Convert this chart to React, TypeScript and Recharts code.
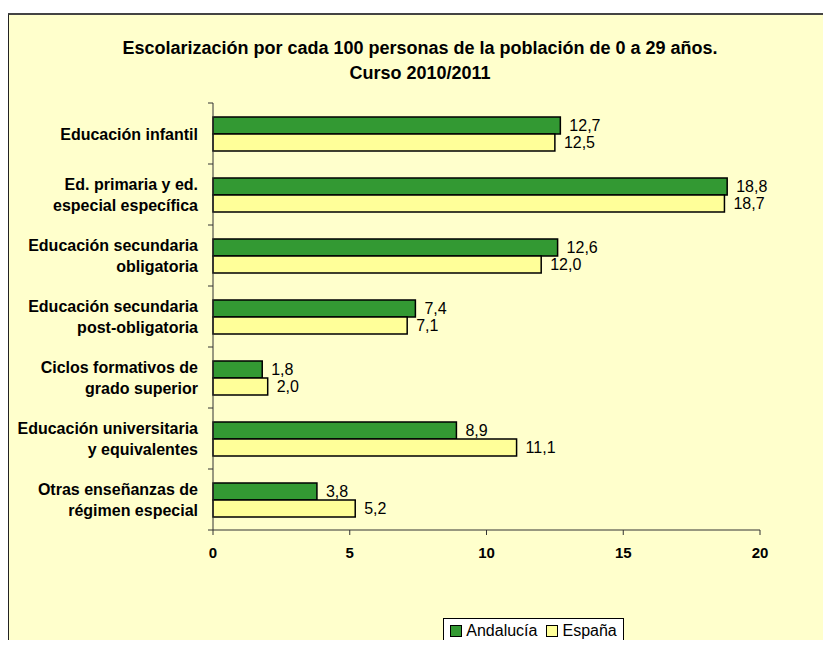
import { BarChart, Bar, XAxis, YAxis, LabelList } from 'recharts';

const categories = [
  'Educación infantil',
  'Ed. primaria y ed.|especial específica',
  'Educación secundaria|obligatoria',
  'Educación secundaria|post-obligatoria',
  'Ciclos formativos de|grado superior',
  'Educación universitaria|y equivalentes',
  'Otras enseñanzas de|régimen especial',
];
const andalucia = [12.7, 18.8, 12.6, 7.4, 1.8, 8.9, 3.8];
const espana = [12.5, 18.7, 12.0, 7.1, 2.0, 11.1, 5.2];
const seriesNames = ['Andalucía', 'España'];
const xTicks = [0, 5, 10, 15, 20];
const titleLines = ['Escolarización por cada 100 personas de la población de 0 a 29 años.', 'Curso 2010/2011'];

const colors = ['#339933', '#FFFF99'];
const font = 'Arial, "Liberation Sans", sans-serif';
const bandHalf = 30.5;

const data = categories.map((c, i) => ({ cat: c, a: andalucia[i], e: espana[i] }));

const fmt = (v: any) => String(Number(v).toFixed(1)).replace('.', ',');

// category label, plus the little tick marks that sit on band edges
function CatTick(props: any) {
  const { x, y, payload, index } = props;
  const lines = String(payload.value).split('|');
  const tx = x - 2;
  return (
    <g>
      <line x1={x + 8} x2={x + 13} y1={y - bandHalf} y2={y - bandHalf} stroke="#333" strokeWidth={1} />
      {index === categories.length - 1 && (
        <line x1={x + 8} x2={x + 13} y1={y + bandHalf} y2={y + bandHalf} stroke="#333" strokeWidth={1} />
      )}
      <text x={tx} textAnchor="end" fontFamily={font} fontSize={16} fontWeight="bold" fill="#000">
        {lines.map((l, k) => (
          <tspan key={k} x={tx} y={y + 6 + (k - (lines.length - 1) / 2) * 21}>
            {l}
          </tspan>
        ))}
      </text>
    </g>
  );
}

export default function App() {
  return (
    <div style={{ position: 'relative', width: 831, height: 648, margin: -8, overflow: 'hidden' }}>
      <div
        style={{
          position: 'absolute',
          left: 7,
          top: 13,
          width: 830,
          height: 640,
          background: '#FFFFCC',
          borderLeft: '2px solid #222',
          borderTop: '2px solid #444',
          borderRight: '2px solid #444',
          boxSizing: 'border-box',
        }}
      />
      <div
        style={{
          position: 'absolute',
          left: 9,
          width: 822,
          top: 36,
          textAlign: 'center',
          fontFamily: font,
          fontWeight: 'bold',
          fontSize: 18,
          lineHeight: '25px',
          color: '#000',
        }}
      >
        {titleLines.map((t) => (
          <div key={t}>{t}</div>
        ))}
      </div>
      <div style={{ position: 'absolute', left: 0, top: 0 }}>
        <BarChart
          width={831}
          height={648}
          data={data}
          layout="vertical"
          margin={{ top: 103, right: 71, bottom: 88, left: 0 }}
          barGap={0}
          barCategoryGap={0}
        >
          <XAxis
            type="number"
            domain={[0, 20]}
            ticks={xTicks}
            tickLine={{ stroke: '#333' }}
            axisLine={{ stroke: '#333' }}
            tickSize={5}
            tickMargin={12}
            tick={{ fontFamily: font, fontSize: 15, fontWeight: 'bold', fill: '#000' }}
          />
          <YAxis
            type="category"
            dataKey="cat"
            width={213}
            tickLine={false}
            axisLine={{ stroke: '#333' }}
            tickMargin={13}
            tickSize={0}
            interval={0}
            tick={<CatTick />}
          />
          <Bar dataKey="a" name={seriesNames[0]} fill={colors[0]} stroke="#000" strokeWidth={1.5} barSize={17} isAnimationActive={false}>
            <LabelList dataKey="a" position="right" offset={9} formatter={fmt} style={{ fontFamily: font, fontSize: 16, fill: '#000' }} />
          </Bar>
          <Bar dataKey="e" name={seriesNames[1]} fill={colors[1]} stroke="#000" strokeWidth={1.5} barSize={17} isAnimationActive={false}>
            <LabelList dataKey="e" position="right" offset={9} formatter={fmt} style={{ fontFamily: font, fontSize: 16, fill: '#000' }} />
          </Bar>
        </BarChart>
      </div>
      <div
        style={{
          position: 'absolute',
          left: 443,
          top: 618,
          width: 181,
          height: 26,
          boxSizing: 'border-box',
          border: '1px solid #000',
          background: '#fff',
          display: 'flex',
          alignItems: 'center',
          justifyContent: 'center',
          gap: 9,
          fontFamily: font,
          fontSize: 16,
        }}
      >
        {seriesNames.map((n, i) => (
          <span key={n} style={{ display: 'flex', alignItems: 'center' }}>
            <span style={{ display: 'inline-block', width: 10, height: 10, background: colors[i], border: '1px solid #000', marginRight: 4 }} />
            {n}
          </span>
        ))}
      </div>
    </div>
  );
}
